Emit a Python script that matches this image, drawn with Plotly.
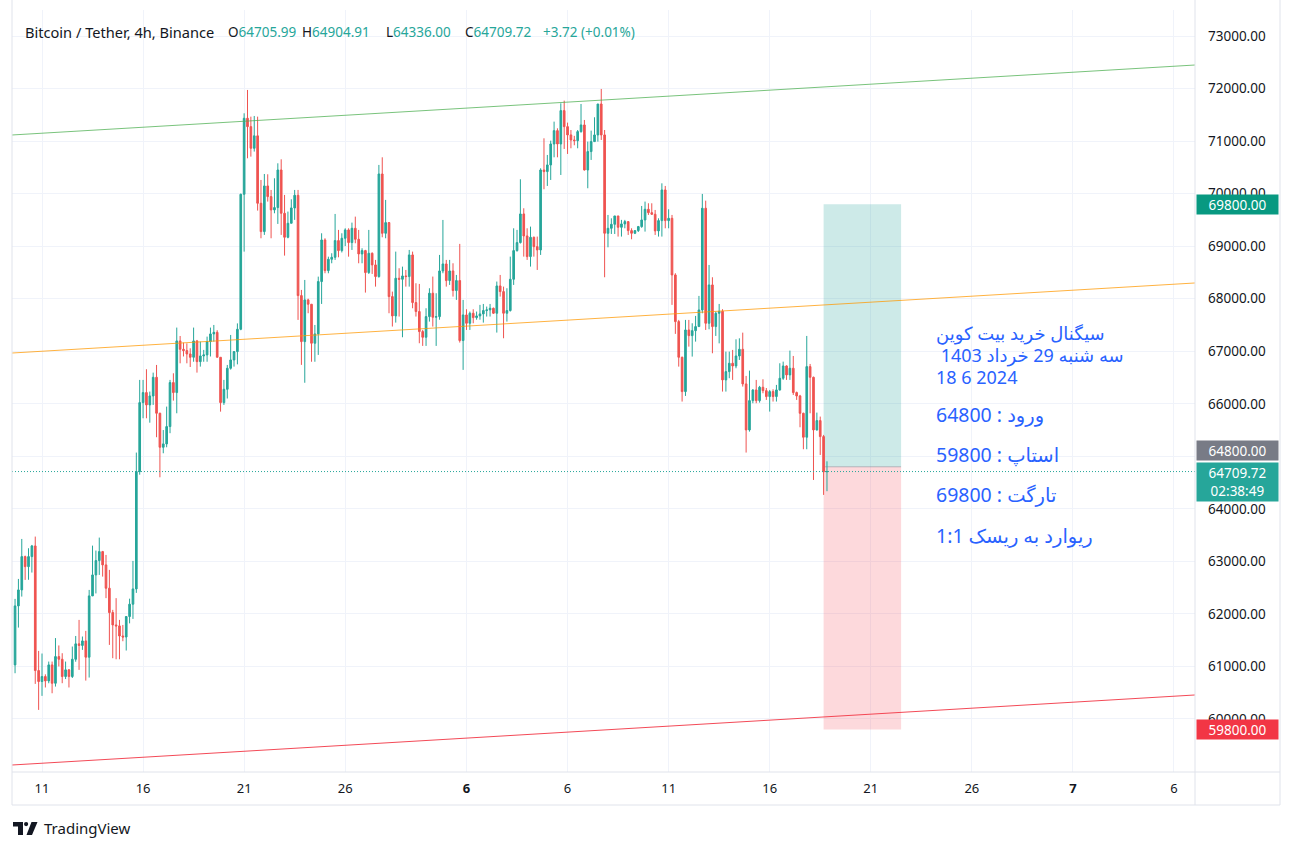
import plotly.graph_objects as go
import pandas as pd

# ---------------- data (BTC/USDT 4h) ----------------
opens = [61030, 62153, 62457, 63091, 62900, 63091, 63294, 60922, 60713, 60808,
         60725, 61030, 60680, 61188, 61137, 60808, 60935, 60808, 61137, 61430,
         61400, 61486, 61176, 62343, 62742, 63015, 63186, 62933, 62489, 62026,
         61790, 61772, 61580, 61560, 61950, 62185, 62476, 64710, 66022, 66213,
         65978, 66149, 66504, 65819, 65172, 65236, 65566, 66403, 66213, 67196,
         67037, 67012, 66948, 66885, 67196, 66802, 66910, 66930, 67183, 67329,
         67360, 66885, 66022, 66276, 66676, 66834, 66993, 67418, 69987, 71434,
         71275, 70863, 71100, 69816, 69277, 70146, 69943, 69690, 69734, 70450,
         69626, 69169, 69436, 69727, 69968, 68059, 67183, 67977, 67894, 67152,
         67330, 68326, 69118, 68535, 68750, 68788, 69106, 68915, 69150, 69309,
         69068, 69340, 69131, 68852, 68915, 68497, 68865, 68643, 68421, 70374,
         69245, 69448, 68040, 67672, 68389, 68370, 68433, 68421, 68833, 67926,
         67755, 67374, 67266, 67659, 68104, 67647, 67659, 68528, 68661, 68345,
         68528, 68155, 68345, 67203, 67691, 67532, 67723, 67640, 67672, 67711,
         67774, 67787, 67818, 67723, 68243, 68135, 67723, 67774, 68370, 68915,
         69068, 69613, 69194, 68801, 69169, 68991, 68928, 70450, 70419, 70546,
         70945, 71199, 70945, 71580, 71275, 71117, 71021, 71008, 71180, 71307,
         70450, 70800, 70990, 71117, 71706, 71117, 69245, 69340, 69416, 69575,
         69359, 69423, 69467, 69296, 69245, 69296, 69372, 69499, 69702, 69638,
         69607, 69290, 69486, 70070, 69486, 69530, 68452, 67564, 66885, 66232,
         67405, 67297, 67392, 67469, 67786, 69721, 67532, 68262, 67469, 67722,
         67760, 66454, 66612, 66771, 66720, 66910, 67037, 66378, 65502, 66060,
         66263, 66060, 66314, 66250, 66137, 66232, 66137, 66263, 66485, 66720,
         66549, 66676, 66213, 66149, 65819, 65363, 66707, 66504, 65502, 65680,
         65375, 64705.99]
highs = [62286, 62666, 63427, 63110, 63250, 63313, 63472, 61296, 61246, 60850,
         61093, 61093, 61540, 61400, 61252, 61093, 60950, 61379, 61580, 61886,
         61570, 61677, 62457, 63300, 63206, 63453, 63199, 63123, 62838, 62077,
         62300, 61886, 61790, 61960, 62290, 63009, 65071, 66454, 66454, 66657,
         66232, 66593, 66739, 65830, 65500, 65946, 66454, 66580, 67450, 67290,
         67164, 67150, 67056, 67450, 67215, 67183, 67025, 67278, 67450, 67500,
         67400, 66885, 66454, 66739, 67310, 67000, 67530, 70000, 71529, 71973,
         71465, 71478, 71465, 70260, 70374, 70368, 70070, 70292, 70577, 70653,
         69975, 69658, 69892, 70070, 70070, 68167, 68357, 68000, 67900, 67500,
         68420, 69245, 69150, 68800, 68865, 69613, 69309, 69245, 69340, 69340,
         69448, 69562, 69309, 68960, 68930, 69309, 68880, 68738, 70546, 70691,
         69880, 69460, 68135, 68896, 68580, 68610, 68547, 68928, 68896, 68294,
         68281, 67405, 67818, 68199, 68421, 68104, 68833, 69499, 68738, 68738,
         68674, 68452, 69043, 67977, 67799, 67755, 67799, 67755, 67882, 67900,
         67850, 67900, 67830, 68326, 68452, 68230, 68199, 68801, 69340, 69309,
         70273, 69721, 69340, 69372, 69182, 69182, 70482, 71053, 70736, 71008,
         71370, 71243, 71719, 71770, 71351, 71211, 71100, 71211, 71706, 71402,
         70990, 71199, 71453, 71706, 71992, 71211, 69594, 69530, 69575, 69575,
         69500, 69500, 69467, 69340, 69300, 69385, 69765, 69848, 69816, 69816,
         69689, 69530, 70196, 70146, 69702, 69594, 68484, 67596, 66897, 67596,
         67596, 67532, 67672, 68053, 69994, 69866, 68642, 68408, 67754, 67900,
         67800, 66993, 66993, 67025, 67227, 67246, 67354, 66530, 66631, 66276,
         66454, 66340, 66466, 66300, 66263, 66276, 66359, 66771, 66802, 66732,
         67012, 66910, 66232, 66169, 65830, 67291, 66758, 66517, 65832, 65756,
         65407, 64904.91]
lows = [60871, 61740, 62330, 62647, 62650, 62787, 60668, 60173, 60440, 60600,
        60680, 60490, 60617, 61000, 60681, 60760, 60600, 60780, 61090, 60935,
        61315, 60731, 60789, 62340, 62390, 62742, 62710, 62300, 61410, 61157,
        61137, 61137, 61480, 61303, 61820, 61905, 62400, 64650, 65724, 65724,
        65640, 65978, 65363, 64601, 65058, 65172, 65440, 66060, 65819, 66770,
        66900, 66770, 66700, 66800, 66593, 66707, 66800, 66800, 66900, 67183,
        66885, 65850, 65978, 66100, 66650, 66707, 66750, 67400, 68896, 70672,
        70704, 70800, 69677, 69150, 69214, 69848, 69150, 69626, 69423, 69214,
        68820, 69150, 69436, 69500, 67596, 66740, 66400, 67723, 66800, 66800,
        66930, 67900, 68484, 68484, 68674, 68738, 68788, 68880, 69000, 68800,
        68928, 69055, 68674, 68674, 68116, 68471, 68471, 68230, 68400, 69169,
        69150, 67723, 67470, 67545, 67660, 67266, 68230, 68230, 67818, 67660,
        67152, 67101, 67101, 67564, 67469, 67101, 67600, 68484, 68230, 68262,
        68040, 67977, 67165, 66645, 67405, 67405, 67532, 67600, 67600, 67545,
        67660, 67660, 67710, 67355, 68040, 67247, 67564, 67755, 68262, 68896,
        69050, 68801, 68738, 68611, 68801, 68547, 68833, 70083, 70146, 70260,
        70691, 70691, 70355, 70850, 70755, 70863, 70920, 70863, 71160, 70440,
        70102, 70641, 70990, 70990, 71021, 68408, 68978, 69232, 69232, 69182,
        69182, 69340, 69213, 69131, 69230, 69270, 69350, 69277, 69594, 69594,
        69213, 69182, 69182, 69340, 69340, 67882, 67330, 66707, 66042, 66149,
        67088, 66898, 67183, 67469, 67722, 67405, 67418, 66961, 67291, 67150,
        66232, 66232, 66486, 66454, 66676, 66834, 66327, 65071, 65470, 66010,
        66010, 66022, 66200, 66073, 65851, 66042, 66042, 66250, 66454, 66454,
        66454, 66168, 66073, 65553, 65134, 65134, 65819, 64550, 65490, 65026,
        64265, 64336.00]
closes = [62153, 62457, 63091, 62900, 63091, 63294, 60922, 60713, 60808, 60725,
          61030, 60680, 61188, 61137, 60808, 60935, 60808, 61137, 61430, 61400,
          61486, 61176, 62343, 62742, 63015, 63186, 62933, 62489, 62026, 61790,
          61772, 61580, 61560, 61950, 62185, 62476, 64710, 66022, 66213, 65978,
          66149, 66504, 65819, 65172, 65236, 65566, 66403, 66213, 67196, 67037,
          67012, 66948, 66885, 67196, 66802, 66910, 66930, 67183, 67329, 67360,
          66885, 66022, 66276, 66676, 66834, 66993, 67418, 69987, 71434, 71275,
          70863, 71100, 69816, 69277, 70146, 69943, 69690, 69734, 70450, 69626,
          69169, 69436, 69727, 69968, 68059, 67183, 67977, 67894, 67152, 67330,
          68326, 69118, 68535, 68750, 68788, 69106, 68915, 69150, 69309, 69068,
          69340, 69131, 68852, 68915, 68497, 68865, 68643, 68421, 70374, 69245,
          69448, 68040, 67672, 68389, 68370, 68433, 68421, 68833, 67926, 67755,
          67374, 67266, 67659, 68104, 67647, 67659, 68528, 68661, 68345, 68528,
          68155, 68345, 67203, 67691, 67532, 67723, 67640, 67672, 67711, 67774,
          67787, 67818, 67723, 68243, 68135, 67723, 67774, 68370, 68915, 69068,
          69613, 69194, 68801, 69169, 68991, 68928, 70450, 70419, 70546, 70945,
          71199, 70945, 71580, 71275, 71117, 71021, 71008, 71180, 71307, 70450,
          70800, 70990, 71117, 71706, 71117, 69245, 69340, 69416, 69575, 69359,
          69423, 69467, 69296, 69245, 69296, 69372, 69499, 69702, 69638, 69607,
          69290, 69486, 70070, 69486, 69530, 68452, 67564, 66885, 66232, 67405,
          67297, 67392, 67469, 67786, 69721, 67532, 68262, 67469, 67722, 67760,
          66454, 66612, 66771, 66720, 66910, 67037, 66378, 65502, 66060, 66263,
          66060, 66314, 66250, 66137, 66232, 66137, 66263, 66485, 66720, 66549,
          66676, 66213, 66149, 65819, 65363, 66707, 66504, 65502, 65680, 65375,
          64706, 64709.72]
last_bar_time = "2024-06-18 20:00"
times = pd.date_range(end=last_bar_time, periods=len(closes), freq="4h")

price_ticks = list(range(60000, 73001, 1000))
hidden_price_ticks = [65000]  # fully covered by the price badges in the reference
date_ticks = ["2024-05-11", "2024-05-16", "2024-05-21", "2024-05-26", "2024-06-01",
              "2024-06-06", "2024-06-11", "2024-06-16", "2024-06-21", "2024-06-26",
              "2024-07-01", "2024-07-06"]
date_labels = ["11", "16", "21", "26", "<b>6</b>", "6", "11", "16", "21", "26", "<b>7</b>", "6"]

# trend lines (drawing anchors: time, price)
line_times = ["2024-05-09 12:23", "2024-07-07 00:58"]
green_line = [71116, 72448]
orange_line = [66966, 68299]
red_line = [59124, 60457]

# long position tool
pos_start, pos_end = "2024-06-18 16:00", "2024-06-22 12:00"
entry, target, stop = 64800, 69800, 59800
last_price = closes[-1]

header_name = "Bitcoin / Tether, 4h, Binance"
ohlc_labels = ["O", "H", "L", "C"]
ohlc_values = ["64705.99", "64904.91", "64336.00", "64709.72"]
change_text = "+3.72 (+0.01%)"
countdown = "02:38:49"
note_lines = ["سیگنال خرید بیت کوین", " 1403 سه شنبه 29 خرداد", "18 6 2024",
              "64800 : ورود", "59800 : استاپ", "69800 : تارگت", "1:1 ریوارد به ریسک"]

# ---------------- styling ----------------
UP, DOWN = "#26a69a", "#ef5350"
TXT = "#131722"
GRID = "#f0f3fa"
SEP = "#e0e3eb"
FONT = "Noto Sans, DejaVu Sans, sans-serif"
W, H = 1295, 850
PL, PT, PR, PB = 12, 10, 1195, 772
y_lo, y_hi = 58991, 73495
x_lo, x_hi = line_times


def fx(xp):
    return (xp - PL) / (PR - PL)


def fy(yp):
    return (PB - yp) / (PB - PT)


fig = go.Figure()

for prices, col in [(green_line, "rgba(76,175,80,0.75)"),
                    (orange_line, "rgba(255,152,0,0.75)"),
                    (red_line, "rgba(242,54,69,0.9)")]:
    fig.add_trace(go.Scatter(x=line_times, y=prices, mode="lines",
                             line=dict(color=col, width=1), hoverinfo="skip",
                             showlegend=False))

fig.add_trace(go.Candlestick(
    x=times, open=opens, high=highs, low=lows, close=closes,
    increasing=dict(line=dict(color=UP, width=1), fillcolor=UP),
    decreasing=dict(line=dict(color=DOWN, width=1), fillcolor=DOWN),
    whiskerwidth=0, hoverinfo="skip", showlegend=False))

shapes = [
    dict(type="rect", xref="x", yref="y", x0=pos_start, x1=pos_end, y0=entry, y1=target,
         fillcolor="rgba(38,166,154,0.23)", line=dict(width=0), layer="between"),
    dict(type="rect", xref="x", yref="y", x0=pos_start, x1=pos_end, y0=stop, y1=entry,
         fillcolor="rgba(247,82,95,0.22)", line=dict(width=0), layer="between"),
    dict(type="line", xref="x", yref="y", x0=pos_start, x1=pos_end, y0=entry, y1=entry,
         line=dict(color="rgba(120,123,134,0.45)", width=1), layer="between"),
    dict(type="line", xref="paper", yref="y", x0=0, x1=1, y0=last_price, y1=last_price,
         line=dict(color=UP, width=1, dash="1px,2px")),
    # panel separators / frame
    dict(type="line", xref="paper", yref="paper", x0=1, x1=1, y0=fy(805), y1=fy(0),
         line=dict(color=SEP, width=1)),
    dict(type="line", xref="paper", yref="paper", x0=fx(12), x1=fx(1280), y0=0, y1=0,
         line=dict(color=SEP, width=1)),
    dict(type="line", xref="paper", yref="paper", x0=fx(12), x1=fx(1280), y0=fy(805), y1=fy(805),
         line=dict(color=SEP, width=1)),
    dict(type="line", xref="paper", yref="paper", x0=fx(1280), x1=fx(1280), y0=fy(805), y1=fy(0),
         line=dict(color=SEP, width=1)),
    dict(type="line", xref="paper", yref="paper", x0=fx(12), x1=fx(12), y0=fy(805), y1=fy(0),
         line=dict(color=SEP, width=1)),
]

# TradingView logo
def path(pts):
    return "M " + " L ".join(f"{fx(a):.5f},{fy(b):.5f}" for a, b in pts) + " Z"

shapes += [
    dict(type="path", xref="paper", yref="paper",
         path=path([(13, 822), (23, 822), (23, 835), (18, 835), (18, 826.5), (13, 826.5)]),
         fillcolor=TXT, line=dict(width=0)),
    dict(type="circle", xref="paper", yref="paper", x0=fx(24), x1=fx(28.2), y0=fy(822), y1=fy(826.2),
         fillcolor=TXT, line=dict(width=0)),
    dict(type="path", xref="paper", yref="paper",
         path=path([(31.5, 822), (37.5, 822), (32, 835), (26.5, 835)]),
         fillcolor=TXT, line=dict(width=0)),
]

ann = []
# header
ann.append(dict(xref="paper", yref="paper", x=fx(23), y=fy(32), xanchor="left", yanchor="middle",
                text=header_name, showarrow=False, font=dict(family=FONT, size=14.6, color=TXT)))
for lab, val, xp in zip(ohlc_labels, ohlc_values, [226, 300, 384, 463]):
    ann.append(dict(xref="paper", yref="paper", x=fx(xp), y=fy(32), xanchor="left", yanchor="middle",
                    text=f"{lab}<span style='color:{UP}'>{val}</span>", showarrow=False,
                    font=dict(family=FONT, size=13.5, color=TXT)))
ann.append(dict(xref="paper", yref="paper", x=fx(541), y=fy(32), xanchor="left", yanchor="middle",
                text=change_text, showarrow=False, font=dict(family=FONT, size=13.5, color=UP)))

# persian note (first three lines set tight, as in the reference)
note_y = [333, 355, 377, 415, 454, 494, 535]
note_size = [18, 18, 18, 19.5, 19.5, 19.5, 19.5]
for txt, yp, sz in zip(note_lines, note_y, note_size):
    ann.append(dict(xref="paper", yref="paper", x=fx(934), y=fy(yp), xanchor="left", yanchor="middle",
                    text=txt, showarrow=False, font=dict(family=FONT, size=sz, color="#2962ff")))

# price badges
def badge(price, text, bg, shift, h=19, anchor="middle"):
    return dict(xref="paper", yref="y", x=1, xshift=1, y=price, xanchor="left", yanchor=anchor,
                yshift=shift, text=text, showarrow=False, bgcolor=bg, width=81, height=h,
                borderpad=0, align="center", font=dict(family=FONT, size=13.5, color="white"))

ann.append(badge(target, f"{target:.2f}", "#089981", 0))
ann.append(badge(entry, f"{entry:.2f}", "#787b86", 16))
ann.append(badge(last_price, f"{last_price:.2f}<br>{countdown}", UP, 10, h=38, anchor="top"))
ann.append(badge(stop, f"{stop:.2f}", "#f23645", 0))

ann.append(dict(xref="paper", yref="paper", x=fx(42), y=fy(828), xanchor="left", yanchor="middle",
                text="TradingView", showarrow=False, font=dict(family=FONT, size=15, color=TXT)))

price_labels = ["" if p in hidden_price_ticks else f"{p:.2f}" for p in price_ticks]

fig.update_layout(
    width=W, height=H, margin=dict(l=PL, r=W - PR, t=PT, b=H - PB),
    paper_bgcolor="white", plot_bgcolor="white", showlegend=False,
    shapes=shapes, annotations=ann, font=dict(family=FONT, color=TXT),
    xaxis=dict(type="date", range=[x_lo, x_hi], rangeslider=dict(visible=False),
               tickvals=date_ticks, ticktext=date_labels, showgrid=True, gridcolor=GRID,
               gridwidth=1, zeroline=False, showline=False, ticks="",
               ticklabelstandoff=7, tickfont=dict(family=FONT, size=13, color=TXT)),
    yaxis=dict(range=[y_lo, y_hi], side="right", tickvals=price_ticks, ticktext=price_labels,
               showgrid=True, gridcolor=GRID, zeroline=False, showline=False, ticks="",
               ticklabelstandoff=12, tickfont=dict(family=FONT, size=13.5, color=TXT)),
)

fig.write_html("out.html")
